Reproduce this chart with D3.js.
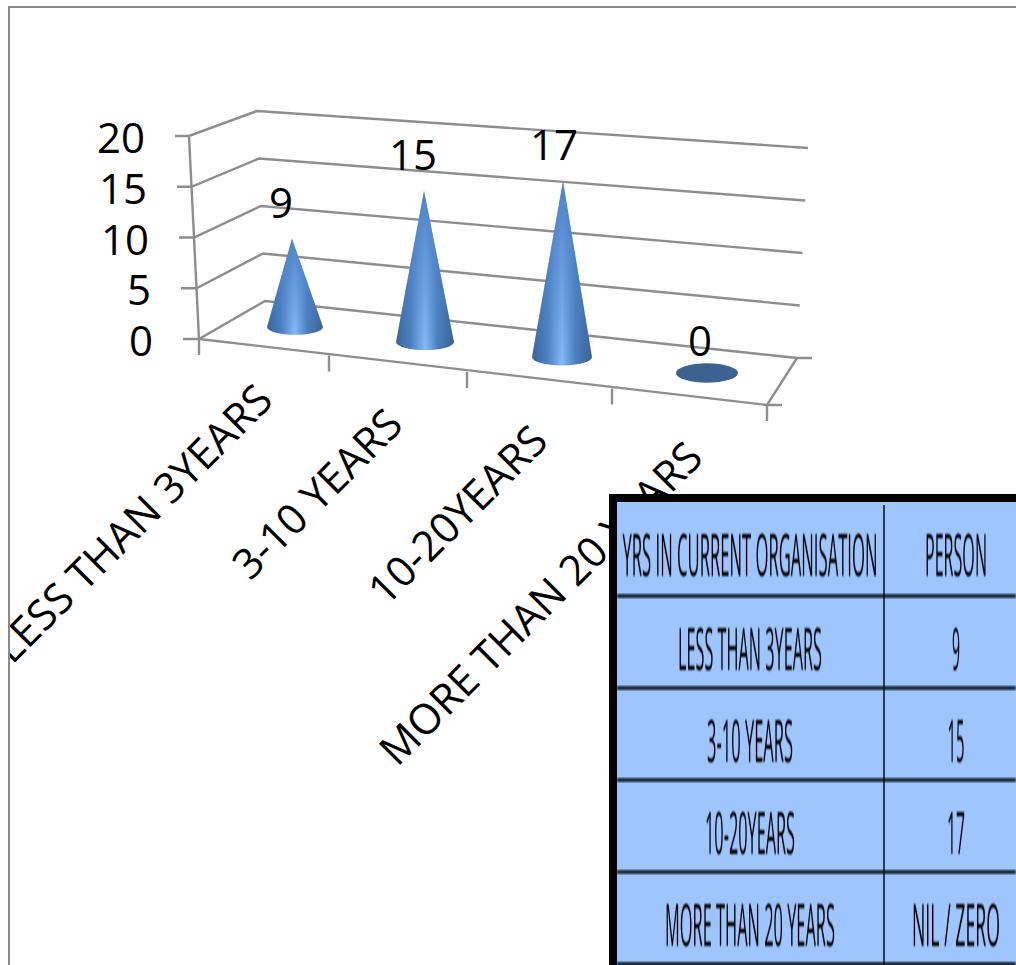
<!DOCTYPE html>
<html>
<head>
<meta charset="utf-8">
<script src="https://cdn.jsdelivr.net/npm/d3@7"></script>
<style>
  html, body { margin: 0; padding: 0; background: #fff; overflow: hidden; }
  text { font-family: "Open Sans", sans-serif; fill: #000; }
</style>
</head>
<body>
<div id="chart"></div>
<script>
const categories = ["LESS THAN 3YEARS", "3-10 YEARS", "10-20YEARS", "MORE THAN 20 YEARS"];
const persons = [9, 15, 17, 0];
const yTicks = [0, 5, 10, 15, 20];
const tableHeader = ["YRS IN CURRENT ORGANISATION", "PERSON"];
const tableValues = ["9", "15", "17", "NIL / ZERO"];

const fullW = 1016, fullH = 965;
const svg = d3.select("#chart").append("svg").attr("width", fullW).attr("height", fullH);
const defs = svg.append("defs");

// Chart frame clip (labels get cut at the frame's left edge)
defs.append("clipPath").attr("id", "frame").append("rect")
  .attr("x", 9).attr("y", 7).attr("width", 1007).attr("height", 958);

// Walls: one scale per corner, value -> screen
const frontLeftX = d3.scaleLinear().domain([0, 20]).range([199, 189]);
const frontLeftY = d3.scaleLinear().domain([0, 20]).range([339, 136]);
const backLeftX  = d3.scaleLinear().domain([0, 20]).range([265, 257]);
const backLeftY  = d3.scaleLinear().domain([0, 20]).range([301, 111]);
const backRightX = d3.scaleLinear().domain([0, 20]).range([797, 808]);
const backRightY = d3.scaleLinear().domain([0, 20]).range([358, 148]);
const tickLeft   = d3.scaleLinear().domain([0, 20]).range([183, 175]);

// Category positions on the floor (perspective, so spacing grows)
const idx = d3.range(categories.length);
const baseX = d3.scaleLinear().domain(idx).range([295, 425, 562, 707]);
const baseY = d3.scaleLinear().domain(idx).range([327, 342, 357, 373]);
const halfW = d3.scaleLinear().domain([0, 3]).range([28, 31]);
const unitH = d3.scaleLinear().domain([0, 3]).range([9.8, 10.6]);
const tipShift = d3.scaleLinear().domain([0, 3]).range([-3, 3]);
const labelShift = d3.scaleOrdinal().domain(idx).range([-14, -12, -8, -7]);
const catNudge = d3.scaleOrdinal().domain(idx).range([8, 0, 0, 0]);

// Front edge of the floor
const edgeX = d3.scaleLinear().domain([0, 1, 2, 3, 4]).range([199, 329, 467, 612, 767]);
const edgeY = d3.scaleLinear().domain([0, 4]).range([339, 405]);

const axisColour = "#8e8e8e";
const chart = svg.append("g").attr("clip-path", "url(#frame)");

// Frame
svg.append("path")
  .attr("d", d3.line()([[9, fullH], [9, 7], [fullW, 7]]))
  .attr("fill", "none").attr("stroke", "#8a8a8a").attr("stroke-width", 2);

// Gridlines on the two walls
const grid = chart.append("g").attr("fill", "none").attr("stroke", axisColour).attr("stroke-width", 2.4);
grid.selectAll("path").data(yTicks).join("path")
  .attr("d", d => d3.line()([
    [tickLeft(d), frontLeftY(d)],
    [frontLeftX(d), frontLeftY(d)],
    [backLeftX(d), backLeftY(d)],
    [backRightX(d), backRightY(d)]
  ]));

// Vertical axis, floor edges, ticks
const floorPts = [[edgeX(0), edgeY(0)], [edgeX(4), edgeY(4)], [backRightX(0), backRightY(0)], [812, backRightY(0)]];
grid.append("path").attr("d", d3.line()([[frontLeftX(20), frontLeftY(20)], [frontLeftX(0), frontLeftY(0)]]));
grid.append("path").attr("d", d3.line()(floorPts));
grid.append("path").attr("d", d3.line()([[edgeX(4), edgeY(4)], [782, edgeY(4)]]));
grid.selectAll("line").data(d3.range(5)).join("line")
  .attr("x1", d => edgeX(d)).attr("x2", d => edgeX(d))
  .attr("y1", d => edgeY(d)).attr("y2", d => edgeY(d) + 16);

// Y tick labels
chart.selectAll(".ytick").data(yTicks).join("text")
  .attr("class", "ytick")
  .attr("text-anchor", "end")
  .attr("font-size", 42)
  .attr("x", d => tickLeft(d) - 30)
  .attr("y", d => frontLeftY(d) + 17)
  .text(d => d);

// Cone shading: dark edges, light centre
const grad = defs.append("linearGradient").attr("id", "cone");
[[0, "#3a6398"], [0.25, "#4a7fc0"], [0.5, "#86b9f8"], [0.72, "#4a7fbe"], [1, "#3a6090"]].forEach(s => {
  grad.append("stop").attr("offset", s[0]).attr("stop-color", s[1]);
});
// Fades the light band out toward the tip
const tipGrad = defs.append("linearGradient").attr("id", "coneTip").attr("x2", 0).attr("y2", 1);
[[0, 1], [0.3, 0.7], [1, 0]].forEach(s => {
  tipGrad.append("stop").attr("offset", s[0]).attr("stop-color", "#4d84c8").attr("stop-opacity", s[1]);
});

const cones = chart.selectAll(".cone").data(idx).join("g").attr("class", "cone");
cones.each(function(i) {
  const g = d3.select(this);
  const x = baseX(i), y = baseY(i), r = halfW(i), ry = r * 0.28;
  if (persons[i] === 0) {
    g.append("ellipse").attr("cx", x).attr("cy", y).attr("rx", r).attr("ry", ry + 1).attr("fill", "#3b6291");
    return;
  }
  const tipX = x + tipShift(i), tipY = y - persons[i] * unitH(i);
  const d = `M${tipX},${tipY} L${x + r},${y} A${r},${ry} 0 0 1 ${x - r},${y} Z`;
  g.append("path").attr("d", d).attr("fill", "url(#cone)");
  g.append("path").attr("d", d).attr("fill", "url(#coneTip)");
});

// Value labels
chart.selectAll(".value").data(idx).join("text")
  .attr("class", "value")
  .attr("text-anchor", "middle")
  .attr("font-size", 42)
  .attr("x", i => baseX(i) + labelShift(i))
  .attr("y", i => baseY(i) - persons[i] * unitH(i) - (persons[i] === 0 ? 17 : 21))
  .text(i => persons[i]);

// Category labels, rotated
chart.selectAll(".cat").data(idx).join("text")
  .attr("class", "cat")
  .attr("text-anchor", "end")
  .attr("font-size", 42)
  .attr("transform", i => `translate(${edgeX(i + 1) - 62 + catNudge(i)},${edgeY(i + 1) + 55 - catNudge(i)}) rotate(-45)`)
  .text(i => categories[i]);

// Inset table, sits on top of the chart
const rowY = d3.scaleLinear().domain([0, 1, 2, 3, 4, 5]).range([502, 596, 688, 780, 872, 964]);
const colX = [617, 884, fullW];
const table = svg.append("g");
const blur = defs.append("filter").attr("id", "blur");
blur.append("feGaussianBlur").attr("stdDeviation", 0.8);

table.append("rect").attr("x", 609).attr("y", 494).attr("width", fullW - 609).attr("height", fullH - 494).attr("fill", "#000");
table.append("rect").attr("x", colX[0]).attr("y", rowY(0)).attr("width", fullW - colX[0]).attr("height", fullH - rowY(0)).attr("fill", "#9fc5ff");
table.selectAll(".rule").data([1, 2, 3, 4, 5]).join("rect")
  .attr("class", "rule")
  .attr("x", colX[0]).attr("width", fullW - colX[0])
  .attr("y", d => rowY(d) - 2).attr("height", 4)
  .attr("fill", "#15202e").attr("filter", "url(#blur)");
table.append("line").attr("x1", colX[1]).attr("x2", colX[1]).attr("y1", 505).attr("y2", fullH)
  .attr("stroke", "#0a0f18").attr("stroke-width", 1.5);

const leftCol = [tableHeader[0]].concat(categories);
const rightCol = [tableHeader[1]].concat(tableValues);
const leftWidths = [255, 144, 86, 90, 170];
const rightWidths = [62, 8, 17, 18, 88];

// Cell text is squeezed sideways like the pasted picture in the reference
function cellText(cls, rows, cx, widths) {
  table.selectAll("." + cls).data(rows).join("text")
    .attr("class", cls)
    .attr("text-anchor", "middle")
    .attr("font-size", 58)
    .attr("filter", "url(#blur)")
    .text(d => d)
    .attr("transform", function(d, i) {
      const k = widths[i] / this.getComputedTextLength();
      return `translate(${cx},${rowY(i) + 74}) scale(${k},1)`;
    });
}
cellText("cell-l", leftCol, 750, leftWidths);
cellText("cell-r", rightCol, 956, rightWidths);
</script>
</body>
</html>
